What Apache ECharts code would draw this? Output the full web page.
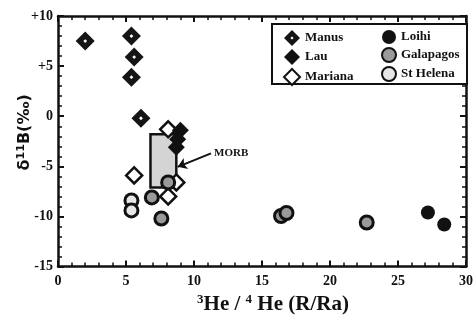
<!DOCTYPE html>
<html>
<head>
<meta charset="utf-8">
<script src="https://cdn.jsdelivr.net/npm/echarts@6/dist/echarts.min.js"></script>
<style>
  html, body { margin: 0; padding: 0; background: #fff; }
  #chart { width: 476px; height: 320px; }
</style>
</head>
<body>
<div id="chart"></div>
<script>
// data: [3He/4He (R/Ra), d11B (permil)]
var manus = [[2.0, 7.5], [5.4, 8.0], [5.6, 5.9], [5.4, 3.9], [6.1, -0.2]];
var lau = [[9.0, -1.4], [8.8, -2.3], [8.7, -3.1]];
var mariana = [[8.1, -1.3], [5.6, -5.9], [8.7, -6.6], [8.1, -8.0]];
var loihi = [[27.2, -9.6], [28.4, -10.8]];
var galapagos = [[8.1, -6.6], [6.9, -8.1], [7.6, -10.2], [16.4, -9.95], [16.8, -9.65], [22.7, -10.6]];
var stHelena = [[5.4, -8.4], [5.4, -9.4]];
// MORB field (x from..to, y from..to)
var morbBox = [[6.8, -1.8], [8.7, -7.1]];
var morbArrow = [[11.25, -3.7], [8.8, -5.05]];
var yTickValues = [-15, -10, -5, 0, 5, 10];
var yTickLabels = ['-15', '-10', '-5', '0', '+5', '+10'];

var serif = '"Liberation Serif", "DejaVu Serif", serif';
// diamond with a small hole in the middle (the dotted centre of the Manus marks)
var manusIcon = 'path://M10,0 L20,10 L10,20 L0,10 Z M10,8 L8,10 L10,12 L12,10 Z';

var myChart = echarts.init(document.getElementById('chart'));

function axisCommon(showLabel) {
  return {
    min: 0, max: 30, interval: 5,
    axisLine: { onZero: false, lineStyle: { color: '#111', width: 2.5 } },
    axisTick: { show: true, inside: true, length: 6, lineStyle: { color: '#111', width: 2 } },
    minorTick: { show: true, splitNumber: 5, length: 4, lineStyle: { color: '#111', width: 1.5 } },
    splitLine: { show: false },
    axisLabel: { show: showLabel }
  };
}

var xBottom = axisCommon(true);
xBottom.position = 'bottom';
xBottom.axisLabel = { show: true, color: '#111', fontFamily: serif, fontWeight: 'bold', fontSize: 14, margin: 8 };
xBottom.name = '{sup|3}He / {sup|4} He (R/Ra)';
xBottom.nameLocation = 'middle';
xBottom.nameGap = 22;
xBottom.nameTextStyle = {
  color: '#111', fontFamily: serif, fontWeight: 'bold', fontSize: 21, padding: [0, 0, 0, 22],
  rich: { sup: { fontFamily: serif, fontWeight: 'bold', fontSize: 13, color: '#111', verticalAlign: 'top', padding: [0, 0, 9, 0] } }
};
var xTop = axisCommon(false);
xTop.position = 'top';

function yAxisCommon(showLabel) {
  var a = axisCommon(showLabel);
  a.min = -15; a.max = 10; a.interval = 5;
  return a;
}
var yLeft = yAxisCommon(true);
yLeft.position = 'left';
yLeft.axisLabel = {
  show: true, color: '#111', fontFamily: serif, fontWeight: 'bold', fontSize: 14, margin: 5,
  formatter: function (v) { return yTickLabels[yTickValues.indexOf(v)]; }
};
yLeft.name = 'δ{sup|11}B(‰)';
yLeft.nameLocation = 'middle';
yLeft.nameGap = 24;
yLeft.nameMoveOverlap = false;
yLeft.nameTextStyle = {
  color: '#111', fontFamily: '"DejaVu Sans", sans-serif', fontWeight: 'bold', fontSize: 16, padding: [0, 0, 0, 18],
  rich: { sup: { fontFamily: '"DejaVu Sans", sans-serif', fontWeight: 'bold', fontSize: 11, color: '#111', verticalAlign: 'top', padding: [0, 0, 7, 0] } }
};
var yRight = yAxisCommon(false);
yRight.position = 'right';

var option = {
  backgroundColor: '#fff',
  animation: false,
  grid: { left: 58, right: 4, top: 16, bottom: 48 },
  xAxis: [xBottom, xTop],
  yAxis: [yLeft, yRight],
  graphic: [{
    type: 'rect', left: 271, top: 23, z: 5,
    shape: { width: 195, height: 60 },
    style: { fill: '#fff', stroke: '#111', lineWidth: 2 }
  }],
  legend: [{
    orient: 'vertical', left: 278, top: 25, z: 10,
    itemWidth: 16, itemHeight: 16, itemGap: 3,
    textStyle: { color: '#111', fontFamily: serif, fontWeight: 'bold', fontSize: 13 },
    data: ['Manus', 'Lau', 'Mariana']
  }, {
    orient: 'vertical', left: 376, top: 25, z: 10,
    itemWidth: 14, itemHeight: 16, itemGap: 3,
    textStyle: { color: '#111', fontFamily: serif, fontWeight: 'bold', fontSize: 13 },
    data: ['Loihi', 'Galapagos', 'St Helena']
  }],
  series: [
    {
      name: 'MORB', type: 'scatter', data: [], z: 1,
      markArea: {
        silent: true,
        itemStyle: { color: '#d4d4d4', borderColor: '#111', borderWidth: 2.5 },
        data: [[{ coord: morbBox[0] }, { coord: morbBox[1] }]]
      },
      markLine: {
        silent: true, symbol: ['none', 'arrow'], symbolSize: 9,
        lineStyle: { color: '#111', width: 2, type: 'solid' },
        label: { show: false },
        data: [[{ coord: morbArrow[0] }, { coord: morbArrow[1] }]]
      },
      markPoint: {
        silent: true, symbol: 'circle', symbolSize: 0,
        label: { show: true, position: 'right', distance: 3, formatter: 'MORB', color: '#111', fontFamily: serif, fontWeight: 'bold', fontSize: 11 },
        data: [{ coord: morbArrow[0] }]
      }
    },
    {
      name: 'Manus', type: 'scatter', data: manus, z: 3,
      symbol: manusIcon, symbolSize: 19,
      itemStyle: { color: '#151515', opacity: 1 }
    },
    {
      name: 'Mariana', type: 'scatter', data: mariana, z: 3,
      symbol: 'diamond', symbolSize: 16,
      itemStyle: { color: '#fff', borderColor: '#111', borderWidth: 2.5, opacity: 1 }
    },
    {
      name: 'Lau', type: 'scatter', data: lau, z: 4,
      symbol: 'diamond', symbolSize: 17,
      itemStyle: { color: '#111', opacity: 1 }
    },
    {
      name: 'Loihi', type: 'scatter', data: loihi, z: 4,
      symbol: 'circle', symbolSize: 14,
      itemStyle: { color: '#111', opacity: 1 }
    },
    {
      name: 'Galapagos', type: 'scatter', data: galapagos, z: 4,
      symbol: 'circle', symbolSize: 13,
      itemStyle: { color: '#9a9a9a', borderColor: '#111', borderWidth: 3, opacity: 1 }
    },
    {
      name: 'St Helena', type: 'scatter', data: stHelena, z: 4,
      symbol: 'circle', symbolSize: 13,
      itemStyle: { color: '#e6e6e6', borderColor: '#111', borderWidth: 3, opacity: 1 }
    }
  ]
};

myChart.setOption(option, true);
window.addEventListener('resize', function () {
  myChart.resize();
});
</script>
</body>
</html>
